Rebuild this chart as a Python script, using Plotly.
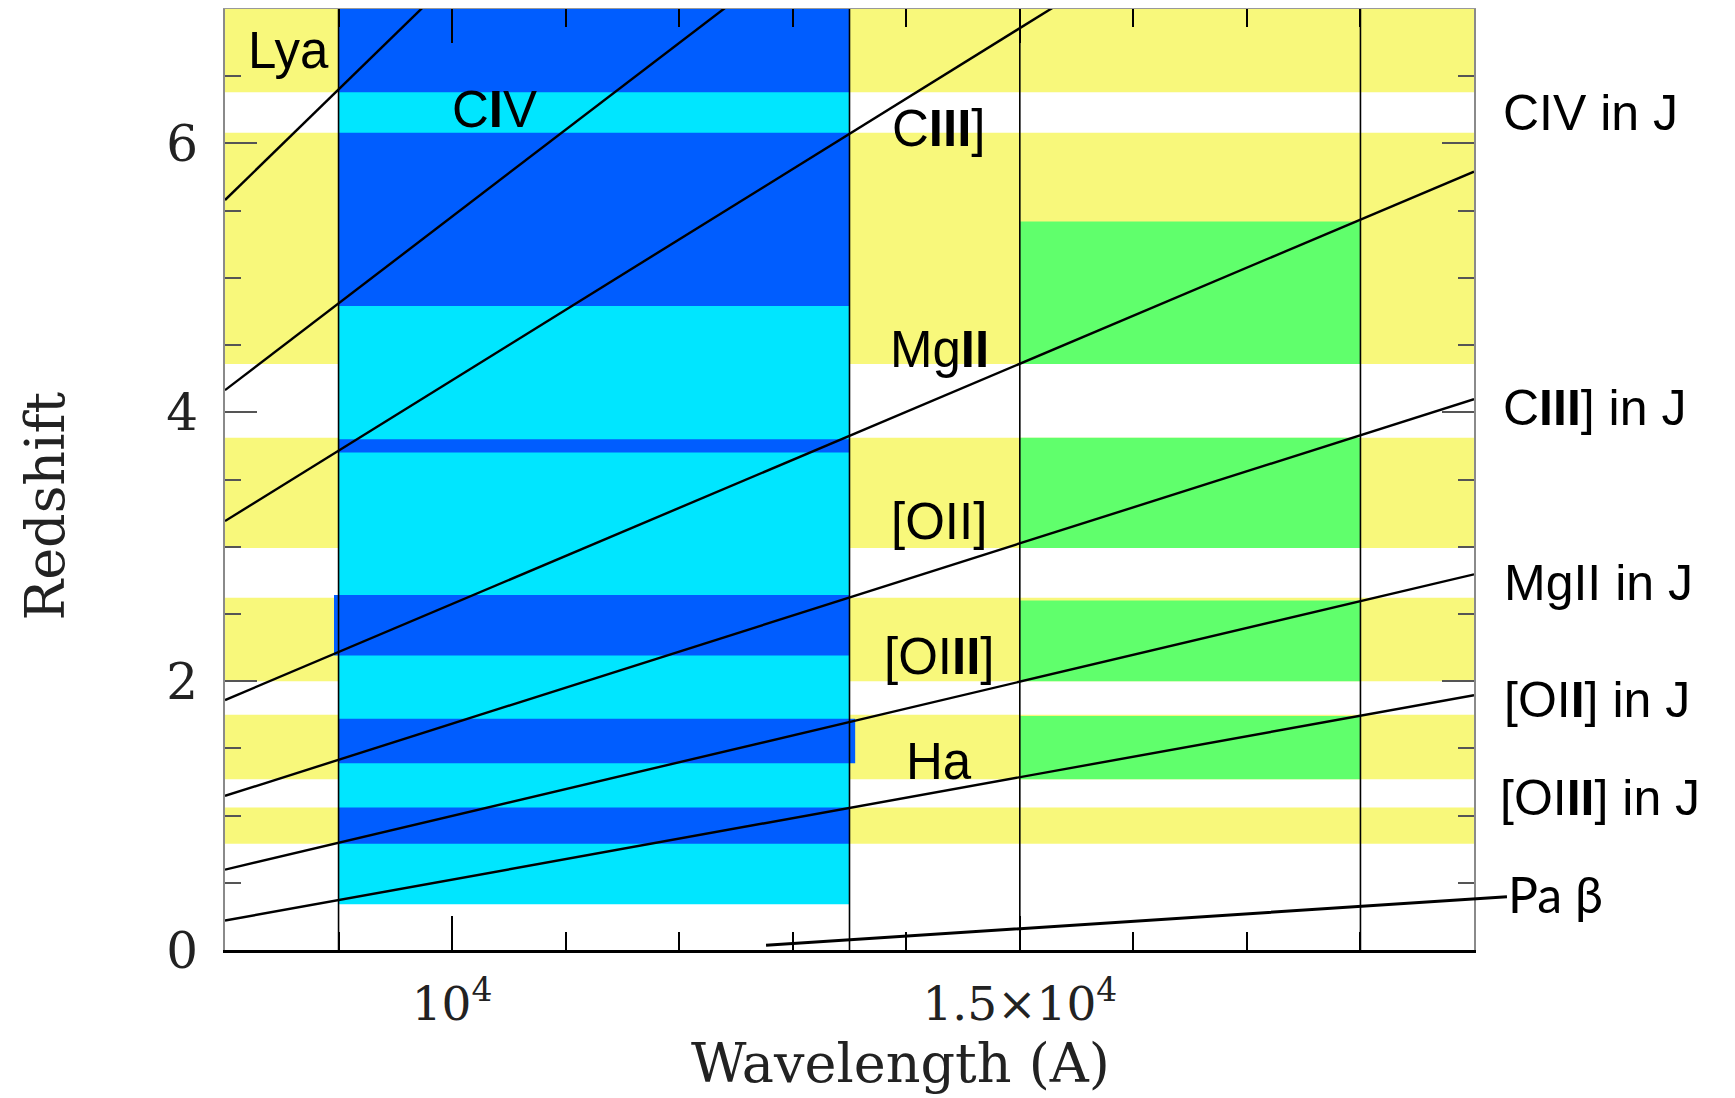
import plotly.graph_objects as go

# ---------------- data ----------------
line_names = ["Lya", "CIV", "CIII]", "MgII", "[OII]", "[OIII]", "Ha"]
rest_wavelength = [1216, 1549, 1909, 2798, 3727, 5007, 6563]
wave_span = [8000, 19000]

filter_edges = [9000, 13500, 15000, 18000]

yellow_z0 = [6.38, 4.36, 2.99, 2.00, 1.27, 0.79]
yellow_z1 = [7.00, 6.08, 3.81, 2.62, 1.75, 1.06]
yellow_wave = [8000, 19000]

cyan_z0 = [0.34]
cyan_z1 = [7.00]
cyan_wave = [9000, 13500]

darkblue_z0 = [6.38, 4.79, 3.70, 2.19, 1.39, 0.79]
darkblue_z1 = [7.00, 6.08, 3.80, 2.64, 1.72, 1.06]
darkblue_w0 = [9000, 9000, 9000, 8960, 9000, 9000]
darkblue_w1 = [13500, 13500, 13500, 13500, 13550, 13500]

green_z0 = [4.36, 2.99, 2.00, 1.27]
green_z1 = [5.42, 3.81, 2.60, 1.74]
green_wave = [15000, 18000]

x_tickvals = [10000, 15000]
x_ticktext = ["10<sup>4</sup>", "1.5×10<sup>4</sup>"]
y_tickvals = [0, 2, 4, 6]
y_ticktext = ["0", "2", "4", "6"]

inner_labels = ["Lya", "C<b>I</b>V", "C<b>III</b>]", "Mg<b>II</b>", "[OII]", "[OI<b>II</b>]", "Ha"]
inner_wave = [8560, 10375, 14290, 14290, 14290, 14290, 14290]
inner_z = [6.69, 6.25, 6.11, 4.47, 3.19, 2.18, 1.40]

right_labels = ["CIV in J", "C<b>III</b>] in J", "MgII in J", "[OI<b>I</b>] in J", "[OI<b>II</b>] in J"]
right_wave = [19235, 19240, 19245, 19245, 19210]
right_z = [6.23, 4.03, 2.73, 1.86, 1.13]

pab_label = "Pa β"
pab_tip = (12765, 0.035)
pab_text_pos = (19722, 0.42)

# ---------------- styles ----------------
X_RANGE = [8000, 19000]
Y_RANGE = [0, 7]
YELLOW = "#F8F87B"
CYAN = "#00E6FF"
DARKBLUE = "#005DFF"
GREEN = "#60FF6C"
SANS = "Liberation Sans, Arial, sans-serif"
SERIF = "DejaVu Serif, serif"

fig = go.Figure()

shapes = []
def rect(x0, x1, y0, y1, color):
    shapes.append(dict(type="rect", xref="x", yref="y", x0=x0, x1=x1, y0=y0, y1=y1,
                       fillcolor=color, line=dict(width=0), layer="below"))

for a, b in zip(yellow_z0, yellow_z1):
    rect(yellow_wave[0], yellow_wave[1], a, b, YELLOW)
for a, b in zip(cyan_z0, cyan_z1):
    rect(cyan_wave[0], cyan_wave[1], a, b, CYAN)
for a, b, w0, w1 in zip(darkblue_z0, darkblue_z1, darkblue_w0, darkblue_w1):
    rect(w0, w1, a, b, DARKBLUE)
for a, b in zip(green_z0, green_z1):
    rect(green_wave[0], green_wave[1], a, b, GREEN)

# filter edges
for w in filter_edges:
    fig.add_trace(go.Scatter(x=[w, w], y=Y_RANGE, mode="lines",
                             line=dict(color="black", width=1.6),
                             showlegend=False, hoverinfo="skip"))

# redshift tracks
for name, lam in zip(line_names, rest_wavelength):
    zs = [w / lam - 1 for w in wave_span]
    fig.add_trace(go.Scatter(x=wave_span, y=zs, mode="lines", name=name,
                             line=dict(color="black", width=2.4),
                             showlegend=False, hoverinfo="skip"))

# dummy trace for top axis
fig.add_trace(go.Scatter(x=[None], y=[None], xaxis="x2", yaxis="y", showlegend=False,
                         hoverinfo="skip"))

def to_paper_x(w):
    return (w - X_RANGE[0]) / (X_RANGE[1] - X_RANGE[0])

annotations = []
for t, w, z in zip(inner_labels, inner_wave, inner_z):
    annotations.append(dict(x=w, y=z, xref="x", yref="y", text=t, showarrow=False,
                            xanchor="center", yanchor="middle",
                            font=dict(family=SANS, size=51, color="black")))
for t, w, z in zip(right_labels, right_wave, right_z):
    annotations.append(dict(x=to_paper_x(w), y=z, xref="paper", yref="y", text=t,
                            showarrow=False, xanchor="left", yanchor="middle",
                            font=dict(family=SANS, size=50, color="black")))
annotations.append(dict(x=pab_tip[0], y=pab_tip[1], xref="x", yref="y",
                        ax=pab_text_pos[0], ay=pab_text_pos[1], axref="x", ayref="y",
                        text=pab_label, showarrow=True, arrowhead=0, arrowwidth=3,
                        arrowcolor="black", standoff=0, startstandoff=0,
                        font=dict(family="Lato, sans-serif", size=50, color="black")))
# axis titles
annotations.append(dict(x=-0.1441, y=0.4713, xref="paper", yref="paper", text="Redshift",
                        textangle=-90, showarrow=False, xanchor="center", yanchor="middle",
                        font=dict(family=SERIF, size=54, color="#222")))
annotations.append(dict(x=0.5412, y=-0.1562, xref="paper", yref="paper", text="Wavelength (A)",
                        showarrow=False, xanchor="center", yanchor="bottom",
                        font=dict(family=SERIF, size=54, color="#222")))

# page body has an 8px margin: shrink the figure so the plot lands where the reference has it
fig.update_layout(
    width=1727, height=1090,
    margin=dict(l=217, r=261, t=1, b=148),
    paper_bgcolor="white", plot_bgcolor="white",
    shapes=shapes, annotations=annotations,
    xaxis=dict(range=X_RANGE, showgrid=False, zeroline=False,
               showline=True, linecolor="black", linewidth=3,
               ticks="inside", ticklen=34, tickwidth=2, tickcolor="black",
               tickmode="array", tickvals=x_tickvals, ticktext=x_ticktext,
               tickfont=dict(family=SERIF, size=47, color="#222"),
               ticklabelstandoff=11,
               minor=dict(ticks="inside", ticklen=18, tickwidth=2, tickcolor="black",
                          tickmode="linear", tick0=8000, dtick=1000, showgrid=False)),
    xaxis2=dict(range=X_RANGE, overlaying="x", side="top", showgrid=False,
                zeroline=False, showline=True, linecolor="#999", linewidth=2,
                ticks="inside", ticklen=34, tickwidth=2, tickcolor="black",
                tickmode="array", tickvals=x_tickvals, showticklabels=False,
                minor=dict(ticks="inside", ticklen=18, tickwidth=2, tickcolor="black",
                           tickmode="linear", tick0=8000, dtick=1000, showgrid=False)),
    yaxis=dict(range=Y_RANGE, showgrid=False, zeroline=False,
               showline=True, linecolor="#8a8a8a", linewidth=2, mirror="ticks",
               ticks="inside", ticklen=32, tickwidth=2, tickcolor="#555",
               tickmode="array", tickvals=y_tickvals, ticktext=y_ticktext,
               tickfont=dict(family=SERIF, size=50, color="#222"),
               ticklabelstandoff=15,
               minor=dict(ticks="inside", ticklen=16, tickwidth=2, tickcolor="#555",
                          tickmode="linear", tick0=0, dtick=0.5, showgrid=False)),
)

fig.write_html("out.html")
